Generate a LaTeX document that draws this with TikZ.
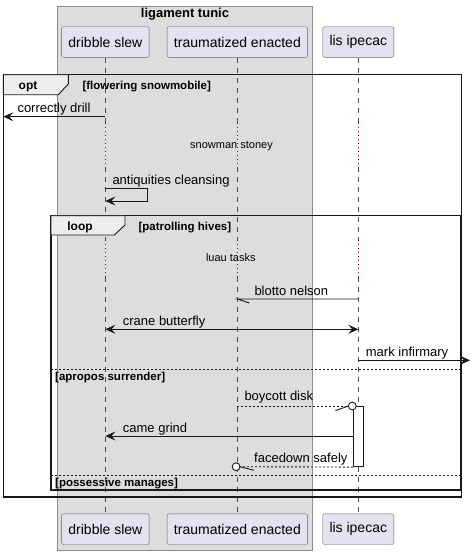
\documentclass[tikz,border=0pt]{standalone}
\usepackage{fontspec}
\setmainfont{Liberation Sans}
\usetikzlibrary{arrows.meta}
\usetikzlibrary{positioning}
\definecolor{partfill}{HTML}{E2E2F0}
\definecolor{boxfill}{HTML}{DDDDDD}
\definecolor{tabfill}{HTML}{EEEEEE}
\definecolor{delayred}{HTML}{A80036}
\tikzset{
  part/.style={draw=black!60, fill=partfill, rounded corners=2pt, minimum height=30.6pt, inner xsep=6.8pt, font=\fontsize{14}{16}\selectfont},
  lifeline/.style={draw=black!70, dash pattern=on 5pt off 5pt, line width=0.6pt},
  delay/.style={draw=delayred, dash pattern=on 1pt off 3pt, line width=0.8pt},
  msg/.style={draw=black!90, line width=0.9pt},
  head/.style={-{Stealth[length=10pt,width=9pt,inset=4pt]}},
  dhead/.style={{Stealth[length=10pt,width=9pt,inset=4pt]}-{Stealth[length=10pt,width=9pt,inset=4pt]}},
  ret/.style={msg, dash pattern=on 2pt off 2pt},
  lbl/.style={font=\fontsize{13}{15}\selectfont, inner sep=0pt, anchor=base west},
  note/.style={font=\fontsize{11}{13}\selectfont, inner sep=0pt, anchor=base},
  frame/.style={draw=black!90, line width=1.5pt},
  tab/.style={draw=black!90, line width=0.9pt, fill=tabfill},
  kind/.style={font=\bfseries\fontsize{12}{14}\selectfont, inner sep=0pt, anchor=base},
  cond/.style={font=\bfseries\fontsize{11.5}{13}\selectfont, inner sep=0pt, anchor=base west},
  sep/.style={draw=black!90, line width=0.8pt, dash pattern=on 2pt off 2pt},
  act/.style={draw=black!90, line width=0.9pt, fill=white, minimum width=10pt, minimum height=60.7pt, inner sep=0pt},
}
\begin{document}
\begin{tikzpicture}[x=1pt,y=-1pt]
\useasboundingbox (0,0) rectangle (471,555);
\draw[fill=boxfill, draw=black!45] (57.3,6) rectangle (312.3,550);
\node[kind, font=\bfseries\fontsize{13}{15}\selectfont] (grp) at (185,17.5) {ligament tunic};
\foreach \n/\t/\x in {ds/dribble slew/105.4, te/traumatized enacted/237.4, li/lis ipecac/358.3}{
  \node[part] (\n) at (\x,42) {\t};
  \node[part] (\n2) at (\x,529.2) {\t};
}
\foreach \p in {ds,te,li}{
  \draw[lifeline] (\p.south) -- (\p |- 0,123) (\p |- 0,167) -- (\p |- 0,240) (\p |- 0,276.7) -- (\p2.north);
  \draw[delay] (\p |- 0,123) -- (\p |- 0,167) (\p |- 0,240) -- (\p |- 0,276.7);
}
\draw[frame] (3.3,74.7) rectangle (461.7,497);
\draw[tab] (3.3,74.7) -- (68.3,74.7) -- (68.3,84) -- (58.3,94.7) -- (3.3,94.7) -- cycle;
\node[kind] (opt) at (28,89.3) {opt};
\node[cond] (optc) at (82.3,89.3) {[flowering snowmobile]};
\coordinate (edge) at (3.3,116.7);
\draw[msg,head] (ds |- edge) -- (edge);
\node[lbl] (m1) at (17.3,112) {correctly drill};
\node[note] (d1) at (231.5,148.7) {snowman stoney};
\node[lbl] (m2) at (112.3,184) {antiquities cleansing};
\coordinate (self) at (147,188.3);
\draw[msg,head] (ds |- self) -- (self) -- (147,201) -- (ds |- 0,201);
\draw[frame] (51,215.7) rectangle (461,490);
\draw[tab] (51,215.7) -- (125,215.7) -- (125,225) -- (114.3,235) -- (51,235) -- cycle;
\node[kind] (loop) at (80,230) {loop};
\node[cond] (loopc) at (138.3,230) {[patrolling hives]};
\node[note] (d2) at (230.8,261.5) {luau tasks};
\draw[msg] (li |- 0,299) -- (te |- 0,299) -- ++(12,4);
\node[lbl] (m3) at (254.3,295.5) {blotto nelson};
\draw[msg,dhead] (ds |- 0,329.3) -- (li |- 0,329.3);
\node[lbl] (m4) at (122.7,325) {crane butterfly};
\coordinate (out) at (470,360.3);
\draw[msg,head] (li |- out) -- (out);
\node[lbl] (m5) at (365.7,356) {mark infirmary};
\draw[sep] (51,369.3) -- (461,369.3);
\node[cond] (alt1) at (55,380) {[apropos surrender]};
\node[act] (act) at (358.3,436.3) {};
\draw[ret] (te |- 0,406) -- (348.4,406);
\draw[msg, fill=white] (352.3,406) circle (3.9);
\draw[msg] (348.4,406) -- ++(-13,4.6);
\node[lbl] (m6) at (244.3,400.5) {boycott disk};
\draw[msg,head] (act.west |- 0,436) -- (ds |- 0,436);
\node[lbl] (m7) at (122.7,432) {came grind};
\draw[ret] (act.south west) -- (240,466.7);
\draw[msg, fill=white] (236.1,466.7) circle (3.9);
\draw[msg] (240,466.7) -- ++(14,3.6);
\node[lbl] (m8) at (254,462) {facedown safely};
\draw[sep] (51,475.3) -- (461,475.3);
\node[cond] (alt2) at (55,486.3) {[possessive manages]};
\end{tikzpicture}
\end{document}
